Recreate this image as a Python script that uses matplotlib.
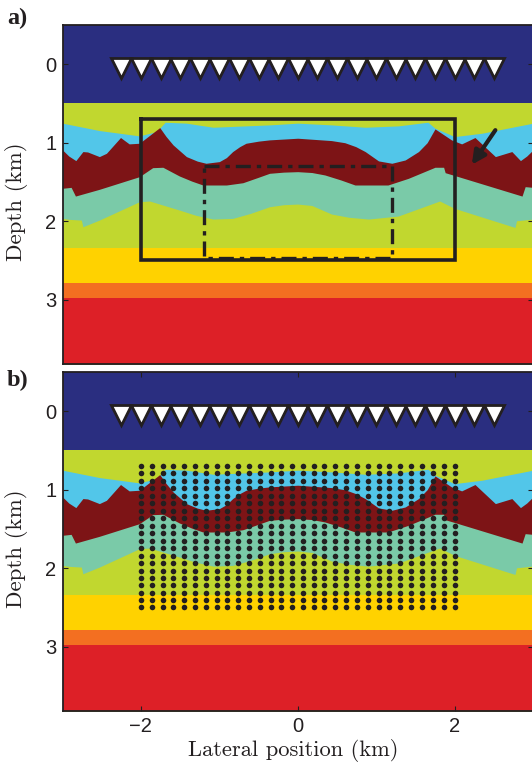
import matplotlib
matplotlib.use('Agg')
import matplotlib.pyplot as plt

plt.rcParams['font.family'] = ['Liberation Sans', 'DejaVu Sans']

W, H = 532, 764

# interface picks, km
blue_x = [-3.0, -2.53, -2.02, -1.80, -1.69, -1.42, -1.08, -0.36, 0.0, 0.43, 0.86, 1.28, 1.66, 1.75, 2.0, 2.35, 3.0]
blue_z = [0.751, 0.845, 0.913, 0.858, 0.739, 0.751, 0.803, 0.773, 0.751, 0.773, 0.803, 0.786, 0.739, 0.815, 0.922, 0.879, 0.751]

brown_top_x = [-3.0, -2.92, -2.83, -2.74, -2.68, -2.53, -2.44, -2.26, -2.15, -2.02, -1.76, -1.68, -1.59, -1.42, -1.28, -1.17,
               -1.0, -0.91, -0.83, -0.74, -0.66, -0.50, -0.36, 0.0, 0.43, 0.60, 0.74, 0.86, 1.03, 1.20, 1.37, 1.54, 1.65, 1.75,
               1.96, 2.09, 2.26, 2.52, 2.73, 2.84, 2.92, 3.0]
brown_top_z = [1.092, 1.17, 1.228, 1.113, 1.118, 1.177, 1.135, 0.934, 1.015, 1.007, 0.807, 0.92, 1.028, 1.177, 1.235, 1.262,
               1.241, 1.19, 1.113, 1.05, 1.007, 0.98, 0.964, 0.943, 0.973, 1.0, 1.05, 1.113, 1.232, 1.262, 1.220, 1.113, 1.0, 0.824,
               0.964, 1.015, 0.934, 1.177, 1.113, 1.228, 1.17, 1.092]

brown_bot_x = [-3.0, -2.89, -2.835, -2.53, -2.02, -1.85, -1.72, -1.51, -1.35, -1.21, -0.91, -0.70, -0.50, -0.36, -0.18, 0.0, 0.18,
               0.345, 0.55, 0.73, 1.15, 1.41, 1.75, 1.86, 1.88, 2.05, 2.86, 2.90, 3.0]
brown_bot_z = [1.581, 1.569, 1.68, 1.594, 1.433, 1.318, 1.313, 1.424, 1.49, 1.539, 1.539, 1.51, 1.44, 1.39, 1.375, 1.369, 1.38,
               1.411, 1.475, 1.539, 1.539, 1.454, 1.313, 1.313, 1.382, 1.433, 1.68, 1.56, 1.569]

teal_bot_x = [-3.0, -2.91, -2.76, -2.74, -2.53, -2.02, -1.89, -1.51, -1.30, -1.08, -0.83, -0.60, -0.36, -0.18, 0.0, 0.18, 0.43, 0.65,
              0.90, 1.28, 1.81, 2.0, 2.77, 2.79, 3.0]
teal_bot_z = [1.965, 1.977, 1.986, 2.071, 1.986, 1.752, 1.743, 1.858, 1.925, 1.973, 1.965, 1.90, 1.816, 1.79, 1.782, 1.80, 1.909, 1.95,
              1.973, 1.935, 1.743, 1.837, 2.08, 1.995, 1.973]

# flat layers
green_top = 0.49
yellow_top = 2.345
orange_top = 2.79
red_top = 2.98

receiver_x = [-2.25, -2.0, -1.75, -1.5, -1.25, -1.0, -0.75, -0.5, -0.25, 0.0,
              0.25, 0.5, 0.75, 1.0, 1.25, 1.5, 1.75, 2.0, 2.25, 2.5]
receiver_z = [0.05] * len(receiver_x)

grid_x = [-2.00, -1.86, -1.72, -1.59, -1.45, -1.31, -1.17, -1.03, -0.90, -0.76,
          -0.62, -0.48, -0.34, -0.21, -0.07, 0.07, 0.21, 0.34, 0.48, 0.62,
          0.76, 0.90, 1.03, 1.17, 1.31, 1.45, 1.59, 1.72, 1.86, 2.00]
grid_z = [0.70, 0.79, 0.89, 0.98, 1.08, 1.17, 1.27, 1.36, 1.46, 1.55,
          1.65, 1.74, 1.84, 1.93, 2.03, 2.12, 2.22, 2.31, 2.41, 2.50]

outer_x = [-2, 2, 2, -2, -2]
outer_z = [0.7, 0.7, 2.5, 2.5, 0.7]
inner_x = [-1.2, 1.2, 1.2, -1.2, -1.2]
inner_z = [1.3, 1.3, 2.47, 2.47, 1.3]

x_ticks = [-2, 0, 2]
x_labels = ['\u22122', '0', '2']
z_ticks = [0, 1, 2, 3]

DARK = '#231f20'
XMIN, XMAX = -3.0, 3.0
ZTOP, ZBOT = -0.5, 3.82


def axes_px(fig, left, top, right, bottom):
    return fig.add_axes([left / W, 1 - bottom / H, (right - left) / W, (bottom - top) / H])


def draw_model(ax):
    ax.set_facecolor('#2a2e80')
    ax.axhspan(green_top, ZBOT, color='#c1d72f', lw=0)
    ax.fill_between(blue_x, blue_z, ZBOT, color='#52c6e9', lw=0)
    ax.fill_between(brown_top_x, brown_top_z, ZBOT, color='#7d1416', lw=0)
    ax.fill_between(brown_bot_x, brown_bot_z, ZBOT, color='#7acaa8', lw=0)
    ax.fill_between(teal_bot_x, teal_bot_z, ZBOT, color='#c1d72f', lw=0)
    ax.axhspan(yellow_top, ZBOT, color='#ffd200', lw=0)
    ax.axhspan(orange_top, ZBOT, color='#f36f21', lw=0)
    ax.axhspan(red_top, ZBOT, color='#dd2027', lw=0)
    ax.plot(receiver_x, receiver_z, ls='none', marker='v', ms=14, mfc='white', mec=DARK, mew=2)

    ax.set_xlim(XMIN, XMAX)
    ax.set_ylim(ZBOT, ZTOP)
    ax.set_yticks(z_ticks)
    ax.tick_params(direction='in', length=3.5, width=0.8, color=DARK, right=True, top=True,
                   labelsize=14.5, labelcolor=DARK, pad=4.5)
    for sp in ax.spines.values():
        sp.set_linewidth(1.3)
        sp.set_color(DARK)
    ax.set_ylabel('Depth (km)', family='cmr10', fontsize=16.5, color=DARK)
    ax.yaxis.set_label_coords(-0.073, 0.48)


fig = plt.figure(figsize=(W / 100, H / 100), dpi=100)

ax_a = axes_px(fig, 62.5, 25, 533, 364)
draw_model(ax_a)
ax_a.set_xticks([])
ax_a.plot(outer_x, outer_z, color=DARK, lw=2.6, solid_joinstyle='miter')
ax_a.plot(inner_x, inner_z, color=DARK, lw=2.4, dashes=(4.5, 1.8, 1.3, 1.8))
ax_a.annotate('', xy=(2.22, 1.28), xytext=(2.52, 0.84),
              arrowprops=dict(arrowstyle='-|>,head_length=0.8,head_width=0.4', color=DARK, lw=3, shrinkA=0, shrinkB=0))

ax_b = axes_px(fig, 62.5, 372, 533, 711)
draw_model(ax_b)
ax_b.set_xticks(x_ticks)
ax_b.set_xticklabels(x_labels)
for gz in grid_z:
    ax_b.plot(grid_x, [gz] * len(grid_x), ls='none', marker='o', ms=4, mfc=DARK, mec='none')
ax_b.set_xlabel('Lateral position (km)', family='cmr10', fontsize=16.2, color=DARK, labelpad=2)
ax_b.xaxis.label.set_x(0.49)

fig.text(7 / W, 1 - 24 / H, 'a)', family='Liberation Serif', weight='bold', fontsize=17.5, color=DARK)
fig.text(7 / W, 1 - 386 / H, 'b)', family='Liberation Serif', weight='bold', fontsize=17.5, color=DARK)

fig.savefig('out.png', dpi=100)
